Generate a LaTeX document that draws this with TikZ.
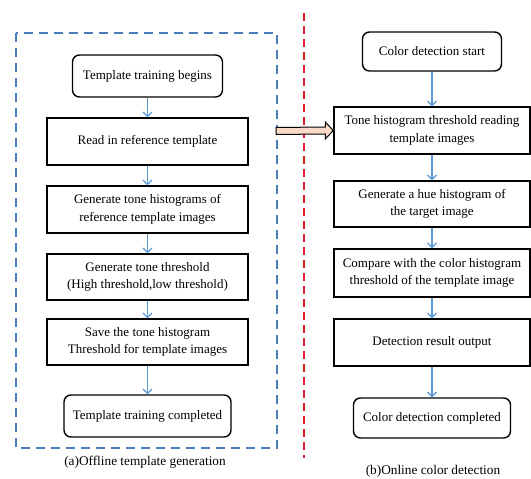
\documentclass[tikz,border=0pt]{standalone}
\usepackage{fontspec}
\setmainfont{Liberation Serif}
\usetikzlibrary{arrows.meta,calc}
\definecolor{dashblue}{HTML}{4A7EBB}
\definecolor{dashred}{HTML}{E0202A}
\definecolor{arrblue}{HTML}{5B9BD5}
\definecolor{pinkfill}{HTML}{FBD9C9}
\tikzset{
  flowbox/.style={draw=black, line width=1.4pt, align=center, inner sep=0pt,
    font=\fontsize{13}{17.5}\selectfont},
  roundbox/.style={flowbox, rounded corners=7pt},
  flowarrow/.style={draw=arrblue, line width=1.2pt, -{Straight Barb[length=4.5pt,width=9pt]}},
  caption/.style={font=\fontsize{13.3}{15}\selectfont}
}
\begin{document}
\begin{tikzpicture}[x=1pt,y=-1pt]
\useasboundingbox (0,0) rectangle (531,479);
% frames
\draw[dashblue, line width=2pt, dash pattern=on 9pt off 6pt] (16,33) rectangle (277,448);
\coordinate (rtop) at (304,13);
\coordinate (rbot) at (304,458);
\draw[dashred, line width=2pt, dash pattern=on 8pt off 5pt] (rtop) -- (rbot);
% left column
\node[roundbox, minimum width=150pt, minimum height=42pt] (b1) at (147.5,76) {Template training begins};
\node[flowbox, minimum width=201pt, minimum height=47pt] (b2) at (147.5,141.5) {Read in reference template};
\node[flowbox, minimum width=201pt, minimum height=47pt] (b3) at (147.5,209.5) {Generate tone histograms of\\reference template images};
\node[flowbox, minimum width=201pt, minimum height=46pt] (b4) at (147.5,277) {Generate tone threshold\\(High threshold,low threshold)};
\node[flowbox, minimum width=201pt, minimum height=46pt] (b5) at (147.5,342) {Save the tone histogram\\Threshold for template images};
\node[roundbox, minimum width=167pt, minimum height=42pt] (b6) at (147.5,416) {Template training completed};
\draw[flowarrow] (b1) -- (b2);
\draw[flowarrow] (b2) -- (b3);
\draw[flowarrow] (b3) -- (b4);
\draw[flowarrow] (b4) -- (b5);
\draw[flowarrow] (b5) -- (b6);
% right column
\node[roundbox, minimum width=139pt, minimum height=39pt] (c1) at (432,51.5) {Color detection start};
\node[flowbox, minimum width=196pt, minimum height=47pt] (c2) at (432,130.5) {Tone histogram threshold reading\\template images};
\node[flowbox, minimum width=196pt, minimum height=46pt] (c3) at (432,204) {Generate a hue histogram of\\the target image};
\node[flowbox, minimum width=196pt, minimum height=48pt] (c4) at (432,273) {Compare with the color histogram\\threshold of the template image};
\node[flowbox, minimum width=196pt, minimum height=47pt] (c5) at (432,342.5) {Detection result output};
\node[roundbox, minimum width=157pt, minimum height=40pt] (c6) at (432,418) {Color detection completed};
\draw[flowarrow] (c1) -- (c2);
\draw[flowarrow] (c2) -- (c3);
\draw[flowarrow] (c3) -- (c4);
\draw[flowarrow] (c4) -- (c5);
\draw[flowarrow] (c5) -- (c6);
% hollow transfer arrow
\coordinate (tail) at (276,131);
\draw[black, line width=1pt, fill=pinkfill, line join=miter]
  ($(tail)+(0,-3.5)$) -- ($(c2.west)+(-8,-3.5)$) -- ($(c2.west)+(-8,-8.5)$) -- (c2.west)
  -- ($(c2.west)+(-8,8.5)$) -- ($(c2.west)+(-8,3.5)$) -- ($(tail)+(0,3.5)$) -- cycle;
% captions
\node[caption] (capa) at (145,462) {(a)Offline template generation};
\node[caption] (capb) at (433,471) {(b)Online color detection};
\end{tikzpicture}
\end{document}
